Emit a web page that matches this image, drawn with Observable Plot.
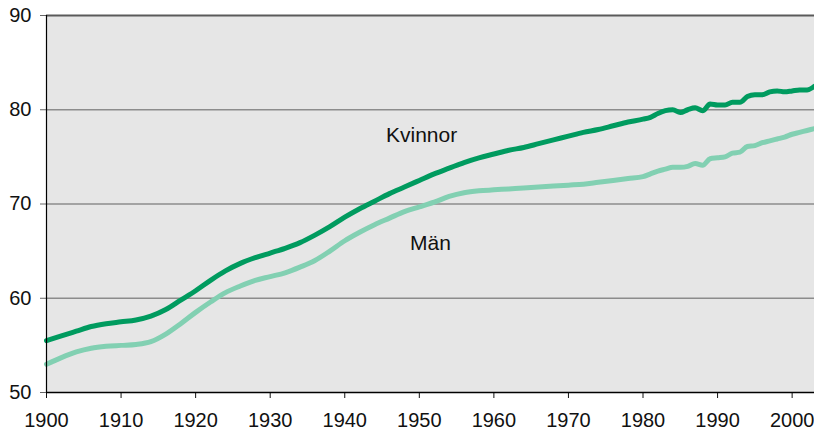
<!DOCTYPE html>
<html><head><meta charset="utf-8">
<script src="https://cdn.jsdelivr.net/npm/d3@7"></script>
<script src="https://cdn.jsdelivr.net/npm/@observablehq/plot@0.6"></script>
<style>body{margin:0;background:#fff;font-family:"Liberation Sans",Arial,sans-serif}</style>
</head><body><div id="chart"></div>
<script>
const years = [1900,1902,1904,1906,1908,1910,1912,1914,1916,1918,1920,1922,1924,1926,1928,1930,1932,1934,1936,1938,1940,1942,1944,1946,1948,1950,1952,1954,1956,1958,1960,1962,1964,1966,1968,1970,1972,1974,1976,1978,1980,1981,1982,1983,1984,1985,1986,1987,1988,1989,1990,1991,1992,1993,1994,1995,1996,1997,1998,1999,2000,2001,2002,2003];
const kvinnor = [55.5,56.0,56.5,57.0,57.3,57.5,57.7,58.1,58.8,59.8,60.8,61.9,62.9,63.7,64.3,64.8,65.3,65.9,66.7,67.6,68.6,69.5,70.3,71.1,71.8,72.5,73.2,73.8,74.4,74.9,75.3,75.7,76.0,76.4,76.8,77.2,77.6,77.9,78.3,78.7,79.0,79.2,79.6,79.9,80.0,79.7,80.0,80.2,79.9,80.6,80.5,80.5,80.8,80.8,81.4,81.6,81.6,81.9,82.0,81.9,82.0,82.1,82.1,82.5];
const man = [53.0,53.7,54.3,54.7,54.9,55.0,55.1,55.4,56.2,57.3,58.5,59.6,60.6,61.3,61.9,62.3,62.7,63.3,64.0,65.0,66.1,67.0,67.8,68.5,69.2,69.7,70.2,70.8,71.2,71.4,71.5,71.6,71.7,71.8,71.9,72.0,72.1,72.3,72.5,72.7,72.9,73.2,73.5,73.7,73.9,73.9,74.0,74.3,74.1,74.8,74.9,75.0,75.4,75.5,76.1,76.2,76.5,76.7,76.9,77.1,77.4,77.6,77.8,78.0];
const xTicks = [1900,1910,1920,1930,1940,1950,1960,1970,1980,1990,2000];
const yTicks = [50,60,70,80,90];
const gridValues = [60,70,80];
const labelNames = ["Kvinnor","Män"];
const labelYears = [1950.3,1951.5];
const labelValues = [77.3,65.8];

const dataK = years.map((y,i)=>({year:y,value:kvinnor[i]}));
const dataM = years.map((y,i)=>({year:y,value:man[i]}));
const labels = labelNames.map((n,i)=>({name:n,year:labelYears[i],value:labelValues[i]}));

const chart = Plot.plot({
  width: 814, height: 434,
  marginLeft: 46, marginRight: 0, marginTop: 15, marginBottom: 42,
  style: {fontFamily: '"Liberation Sans", Arial, sans-serif', fontSize: "20px", background: "#fff", overflow: "visible"},
  x: {domain: [1900, 2003]},
  y: {domain: [50, 90]},
  marks: [
    Plot.frame({fill: "#e6e6e6", stroke: null}),
    Plot.ruleY(gridValues, {stroke: "#8c8c8c", strokeWidth: 1.5, x1: 1900, x2: 2003}),
    Plot.ruleY([90], {stroke: "#5a5a5a", strokeWidth: 2, x1: 1900, x2: 2003}),
    Plot.line(dataM, {x: "year", y: "value", stroke: "#82d0b2", strokeWidth: 5, curve: "monotone-x"}),
    Plot.line(dataK, {x: "year", y: "value", stroke: "#009b5f", strokeWidth: 5, curve: "monotone-x"}),
    Plot.text(labels, {x: "year", y: "value", text: "name", fill: "#111", fontSize: 21}),
    Plot.axisY({ticks: yTicks, tickSize: 6, tickPadding: 9, stroke: "#666", fill: "#111", fontSize: 20, label: null, tickFormat: d => String(d)}),
    Plot.axisX({ticks: xTicks, tickSize: 6, tickPadding: 14, stroke: "#111", fill: "#111", fontSize: 20, label: null, tickFormat: d => String(d)}),
    Plot.ruleX([1900], {stroke: "#000", strokeWidth: 1.2}),
    Plot.ruleY([50], {stroke: "#000", strokeWidth: 1.5})
  ]
});
document.getElementById("chart").appendChild(chart);
</script>
</body></html>
